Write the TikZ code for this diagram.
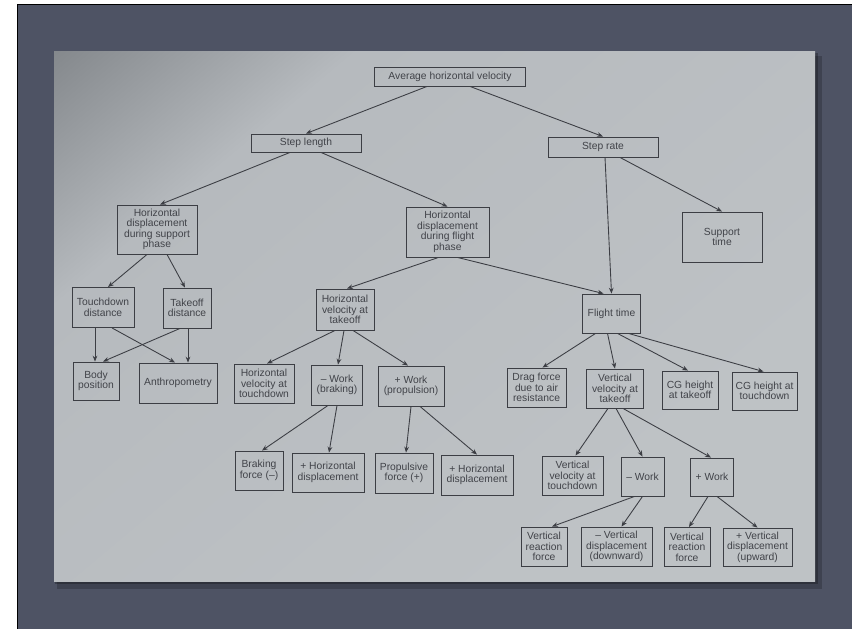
\documentclass[tikz,border=0pt]{standalone}
\usepackage{fontspec}
\setmainfont{Liberation Sans}
\usetikzlibrary{calc,arrows.meta}

\definecolor{board}{HTML}{4E5364}
\definecolor{paper}{HTML}{B6BABE}
\definecolor{paperlight}{HTML}{BEC2C5}
\definecolor{paperdark}{HTML}{7C8084}
\definecolor{ink}{HTML}{3C3E44}
\definecolor{inktext}{HTML}{414349}
\pgfdeclarehorizontalshading{sheet}{100bp}{color(0bp)=(paperdark); color(12bp)=(paperdark); color(30bp)=(paper); color(70bp)=(paperlight); color(100bp)=(paperlight)}

\begin{document}
\begin{tikzpicture}[
    x=0.03cm, y=-0.03cm,
    box/.style={draw=ink, line width=0.75pt, align=center, text=inktext, inner sep=1pt, font=\fontsize{8.8}{9}\selectfont},
    arr/.style={-{Stealth[length=5pt, width=4pt]}, draw=ink, line width=0.75pt}
]
    \useasboundingbox (0,0) rectangle (852,629);
    % slide and sheet
    \fill[white] (0,0) rectangle (852,629);
    \fill[board] (17,4) rectangle (852,629);
    \draw[black, line width=0.8pt] (17,629) -- (17,4) -- (852,4);
    \fill[black, opacity=0.2] (57,56) rectangle (822,589);
    \fill[black, opacity=0.25] (55,53) rectangle (818,584);
    \shade[shading=sheet, shading angle=-50] (54,52) rectangle (815,581);

    % tiers
    \node[box, minimum width=4.53cm, minimum height=0.57cm] (avg) at (450,76.5) {Average horizontal velocity};
    \node[box, minimum width=3.3cm, minimum height=0.54cm] (sl) at (306,143) {Step length};
    \node[box, minimum width=3.3cm, minimum height=0.6cm] (sr) at (603,147) {Step rate};

    \node[box, minimum width=2.4cm, minimum height=1.47cm] (hds) at (157,229.5) {Horizontal\\displacement\\during support\\phase};
    \node[box, minimum width=2.49cm, minimum height=1.5cm] (hdf) at (447.5,232) {Horizontal\\displacement\\during flight\\phase};
    \node[box, minimum width=2.4cm, minimum height=1.5cm] (st) at (722,237) {Support\\time};

    \node[box, minimum width=1.86cm, minimum height=1.2cm] (td) at (103,307.5) {Touchdown\\distance};
    \node[box, minimum width=1.44cm, minimum height=1.2cm] (to) at (187,308) {Takeoff\\distance};
    \node[box, minimum width=1.74cm, minimum height=1.23cm] (hvt) at (345,309.5) {Horizontal\\velocity at\\takeoff};
    \node[box, minimum width=1.74cm, minimum height=1.17cm] (ft) at (611.5,313.5) {Flight time};

    \node[box, minimum width=1.38cm, minimum height=1.14cm] (bp) at (96,381) {Body\\position};
    \node[box, minimum width=2.34cm, minimum height=1.2cm] (an) at (178,383) {Anthropometry};
    \node[box, minimum width=1.8cm, minimum height=1.17cm] (hvtd) at (264,383.5) {Horizontal\\velocity at\\touchdown};
    \node[box, minimum width=1.53cm, minimum height=1.2cm] (wb) at (337,385) {-- Work\\(braking)};
    \node[box, minimum width=1.98cm, minimum height=1.2cm] (wp) at (411,386) {+ Work\\(propulsion)};
    \node[box, minimum width=1.77cm, minimum height=1.17cm] (drag) at (536.5,387.5) {Drag force\\due to air\\resistance};
    \node[box, minimum width=1.71cm, minimum height=1.17cm] (vvt) at (615,388.5) {Vertical\\velocity at\\takeoff};
    \node[box, minimum width=1.68cm, minimum height=1.14cm] (cgt) at (690,390) {CG height\\at takeoff};
    \node[box, minimum width=1.95cm, minimum height=1.14cm] (cgd) at (764.5,391) {CG height at\\touchdown};

    \node[box, minimum width=1.44cm, minimum height=1.17cm] (bf) at (259,470.5) {Braking\\force (--)};
    \node[box, minimum width=2.16cm, minimum height=1.17cm] (hd1) at (328,472.5) {+ Horizontal\\displacement};
    \node[box, minimum width=1.74cm, minimum height=1.2cm] (pf) at (404,473) {Propulsive\\force (+)};
    \node[box, minimum width=2.16cm, minimum height=1.2cm] (hd2) at (477,475) {+ Horizontal\\displacement};
    \node[box, minimum width=1.83cm, minimum height=1.17cm] (vvd) at (572.5,475.5) {Vertical\\velocity at\\touchdown};
    \node[box, minimum width=1.29cm, minimum height=1.17cm] (vw1) at (642.5,476.5) {-- Work};
    \node[box, minimum width=1.29cm, minimum height=1.14cm] (vw2) at (712,477) {+ Work};

    \node[box, minimum width=1.38cm, minimum height=1.17cm] (vr1) at (544,546.5) {Vertical\\reaction\\force};
    \node[box, minimum width=2.13cm, minimum height=1.17cm] (vd1) at (616.5,546.5) {-- Vertical\\displacement\\(downward)};
    \node[box, minimum width=1.38cm, minimum height=1.17cm] (vr2) at (687,547) {Vertical\\reaction\\force};
    \node[box, minimum width=2.07cm, minimum height=1.14cm] (vd2) at (757.5,547) {+ Vertical\\displacement\\(upward)};

    % links
    \draw[arr] ($(avg.south)+(-23,0)$) -- (sl.north);
    \draw[arr] ($(avg.south)+(20,0)$) -- (sr.north);
    \draw[arr] ($(sl.south)+(-16,0)$) -- ($(hds.north)+(3,0)$);
    \draw[arr] ($(sl.south)+(15,0)$) -- (hdf.north);
    \draw[arr] ($(sr.south)+(2,0)$) -- (ft.north);
    \draw[arr] ($(sr.south)+(17,0)$) -- (st.north);
    \draw[arr] ($(hds.south)+(-10,0)$) -- ($(td.north)+(5,0)$);
    \draw[arr] ($(hds.south)+(10,0)$) -- ($(to.north)+(-2,0)$);
    \draw[arr] ($(hdf.south)+(-9,0)$) -- ($(hvt.north)+(2,0)$);
    \draw[arr] ($(hdf.south)+(10,0)$) -- ($(ft.north)+(-8,0)$);

    \draw[arr] ($(td.south)+(-8,0)$) -- ($(bp.north)+(-1,0)$);
    \draw[arr] ($(td.south)+(9,0)$) -- ($(an.north)+(-3,0)$);
    \draw[arr] ($(to.south)+(-7,0)$) -- ($(bp.north)+(7,0)$);
    \draw[arr] ($(to.south)+(1,0)$) -- ($(an.north)+(10,0)$);
    \draw[arr] ($(hvt.south)+(-10,0)$) -- ($(hvtd.north)+(3,0)$);
    \draw[arr] ($(hvt.south)+(-1,0)$) -- ($(wb.north)+(1,0)$);
    \draw[arr] ($(hvt.south)+(8,0)$) -- ($(wp.north)+(-3,0)$);
    \draw[arr] ($(ft.south)+(-16,0)$) -- ($(drag.north)+(6,0)$);
    \draw[arr] ($(ft.south)+(-4,0)$) -- (vvt.north);
    \draw[arr] ($(ft.south)+(6,0)$) -- ($(cgt.north)+(-2,0)$);
    \draw[arr] ($(ft.south)+(17,0)$) -- ($(cgd.north)+(-1,0)$);

    \draw[arr] ($(wb.south)+(-9,0)$) -- ($(bf.north)+(3,0)$);
    \draw[arr] (wb.south) -- ($(hd1.north)+(1,0)$);
    \draw[arr] (wp.south) -- ($(pf.north)+(2,0)$);
    \draw[arr] ($(wp.south)+(9,0)$) -- (hd2.north);
    \draw[arr] ($(vvt.south)+(-7,0)$) -- ($(vvd.north)+(3,0)$);
    \draw[arr] ($(vvt.south)+(1,0)$) -- (vw1.north);
    \draw[arr] ($(vvt.south)+(8,0)$) -- ($(vw2.north)+(-1,0)$);

    \draw[arr] ($(vw1.south)+(-8,0)$) -- ($(vr1.north)+(8,0)$);
    \draw[arr] (vw1.south) -- ($(vd1.north)+(5,0)$);
    \draw[arr] ($(vw2.south)+(-4,0)$) -- ($(vr2.north)+(2,0)$);
    \draw[arr] ($(vw2.south)+(5,0)$) -- (vd2.north);
\end{tikzpicture}
\end{document}
